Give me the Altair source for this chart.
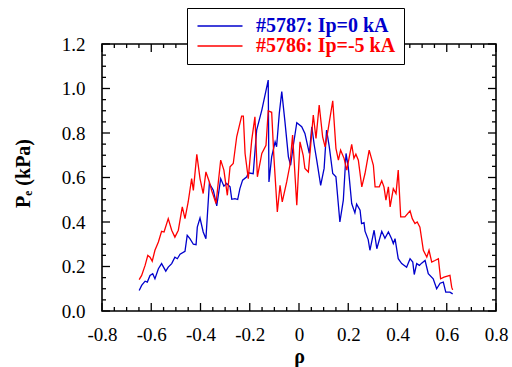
import altair as alt
import pandas as pd

blue_label = "#5787: Ip=0 kA"
red_label = "#5786: Ip=-5 kA"

blue_rho = [-0.649, -0.639, -0.625, -0.616, -0.605, -0.594, -0.585, -0.571, -0.558, -0.541,
            -0.531, -0.517, -0.504, -0.494, -0.483, -0.463, -0.454, -0.443, -0.429, -0.418,
            -0.413, -0.402, -0.389, -0.378, -0.364, -0.348, -0.334, -0.318, -0.305, -0.294,
            -0.280, -0.273, -0.260, -0.249, -0.240, -0.229, -0.212, -0.206, -0.186, -0.172,
            -0.151, -0.125, -0.122, -0.111, -0.097, -0.091, -0.080, -0.070, -0.057, -0.043,
            -0.034, -0.023, -0.009, 0.011, 0.024, 0.042, 0.052, 0.062, 0.072, 0.088,
            0.102, 0.112, 0.123, 0.137, 0.150, 0.166, 0.180, 0.191, 0.200, 0.214,
            0.227, 0.234, 0.248, 0.254, 0.264, 0.268, 0.281, 0.288, 0.305, 0.316,
            0.336, 0.349, 0.363, 0.376, 0.383, 0.390, 0.403, 0.417, 0.437, 0.451,
            0.462, 0.468, 0.478, 0.489, 0.498, 0.512, 0.525, 0.545, 0.559, 0.573,
            0.586, 0.596, 0.613, 0.624]
blue_pe = [0.092, 0.115, 0.134, 0.130, 0.160, 0.168, 0.145, 0.190, 0.213, 0.179,
           0.197, 0.213, 0.242, 0.235, 0.255, 0.268, 0.340, 0.325, 0.300, 0.298,
           0.377, 0.418, 0.355, 0.325, 0.573, 0.543, 0.472, 0.595, 0.561, 0.573,
           0.558, 0.502, 0.505, 0.501, 0.550, 0.588, 0.603, 0.621, 0.617, 0.813,
           0.903, 1.038, 0.580, 0.693, 0.760, 0.738, 0.888, 0.986, 0.850, 0.693,
           0.655, 0.745, 0.846, 0.828, 0.798, 0.708, 0.828, 0.745, 0.678, 0.565,
           0.641, 0.813, 0.738, 0.618, 0.603, 0.400, 0.498, 0.708, 0.648, 0.483,
           0.441, 0.480, 0.453, 0.393, 0.397, 0.359, 0.321, 0.273, 0.363, 0.280,
           0.358, 0.327, 0.355, 0.325, 0.303, 0.325, 0.235, 0.213, 0.197, 0.235,
           0.220, 0.164, 0.213, 0.205, 0.215, 0.227, 0.168, 0.145, 0.100, 0.125,
           0.130, 0.085, 0.085, 0.077]

red_rho = [-0.649, -0.639, -0.625, -0.614, -0.605, -0.596, -0.585, -0.571, -0.558, -0.548,
           -0.531, -0.517, -0.504, -0.490, -0.474, -0.463, -0.450, -0.436, -0.429, -0.415,
           -0.402, -0.389, -0.378, -0.364, -0.355, -0.337, -0.318, -0.305, -0.291, -0.280,
           -0.267, -0.253, -0.233, -0.226, -0.219, -0.206, -0.192, -0.179, -0.169, -0.151,
           -0.134, -0.125, -0.111, -0.102, -0.088, -0.077, -0.068, -0.050, -0.037, -0.026,
           -0.009, 0.004, 0.017, 0.024, 0.038, 0.058, 0.069, 0.082, 0.096, 0.106,
           0.119, 0.137, 0.150, 0.160, 0.169, 0.183, 0.194, 0.214, 0.223, 0.231,
           0.241, 0.255, 0.268, 0.285, 0.302, 0.309, 0.326, 0.336, 0.345, 0.353,
           0.363, 0.370, 0.383, 0.394, 0.403, 0.413, 0.430, 0.451, 0.460, 0.471,
           0.480, 0.491, 0.505, 0.519, 0.528, 0.539, 0.552, 0.566, 0.575, 0.589,
           0.613, 0.620, 0.624]
red_pe = [0.141, 0.160, 0.205, 0.250, 0.242, 0.224, 0.273, 0.310, 0.358, 0.355,
          0.415, 0.363, 0.332, 0.363, 0.468, 0.415, 0.490, 0.595, 0.542, 0.704,
          0.595, 0.528, 0.625, 0.580, 0.542, 0.483, 0.678, 0.633, 0.520, 0.648,
          0.663, 0.783, 0.876, 0.876, 0.708, 0.595, 0.768, 0.873, 0.603, 0.708,
          0.745, 0.899, 0.893, 0.693, 0.445, 0.565, 0.490, 0.580, 0.655, 0.791,
          0.475, 0.760, 0.700, 0.641, 0.625, 0.881, 0.776, 0.926, 0.783, 0.738,
          0.821, 0.945, 0.731, 0.678, 0.723, 0.686, 0.633, 0.749, 0.686, 0.705,
          0.678, 0.558, 0.618, 0.723, 0.655, 0.558, 0.558, 0.585, 0.558, 0.498,
          0.558, 0.468, 0.550, 0.528, 0.633, 0.423, 0.423, 0.450, 0.415, 0.393,
          0.400, 0.377, 0.273, 0.242, 0.273, 0.220, 0.227, 0.235, 0.145, 0.152,
          0.160, 0.107, 0.095]

x_major = [-0.8, -0.6, -0.4, -0.2, 0.0, 0.2, 0.4, 0.6, 0.8]
x_minor = [-0.75, -0.7, -0.65, -0.55, -0.5, -0.45, -0.35, -0.3, -0.25, -0.15, -0.1, -0.05,
           0.05, 0.1, 0.15, 0.25, 0.3, 0.35, 0.45, 0.5, 0.55, 0.65, 0.7, 0.75]
y_major = [0.0, 0.2, 0.4, 0.6, 0.8, 1.0, 1.2]
y_minor = [0.05, 0.1, 0.15, 0.25, 0.3, 0.35, 0.45, 0.5, 0.55, 0.65, 0.7, 0.75,
           0.85, 0.9, 0.95, 1.05, 1.1, 1.15]

W, H = 394, 267
FONT = "Times New Roman, Liberation Serif, DejaVu Serif, serif"
BLUE, RED = "#0000cc", "#ff0000"

df = pd.concat([
    pd.DataFrame({"rho": blue_rho, "pe": blue_pe, "shot": blue_label}),
    pd.DataFrame({"rho": red_rho, "pe": red_pe, "shot": red_label}),
])

xscale = alt.Scale(domain=[-0.8, 0.8], nice=False, zero=False)
yscale = alt.Scale(domain=[0, 1.2], nice=False, zero=False)

xaxis = alt.Axis(
    values=x_major, ticks=False, domain=False, grid=False,
    labelExpr="datum.value == 0 ? '0' : (datum.value < 0 ? '-' : '') + format(abs(datum.value), '.1f')",
    labelFont=FONT, labelFontSize=19, labelColor="black", labelPadding=14,
    labelFlush=False, labelOverlap=False,
    title="ρ", titleFont=FONT, titleFontSize=20, titleFontWeight="bold", titleColor="black",
    titleX=W / 2, titleY=51, titleBaseline="alphabetic", titleAlign="center")
yaxis = alt.Axis(
    values=y_major, format=".1f", ticks=False, domain=False, grid=False,
    labelFont=FONT, labelFontSize=19, labelColor="black", labelPadding=17,
    labelFlush=False, labelOverlap=False,
    title="Pₑ (kPa)", titleFont=FONT, titleFontSize=20, titleFontWeight="bold", titleColor="black",
    titleX=-79, titleY=129, titleAngle=270, titleBaseline="middle", titleAlign="center")

lines = alt.Chart(df).mark_line(strokeWidth=1.3).encode(
    x=alt.X("rho:Q", scale=xscale, axis=xaxis),
    y=alt.Y("pe:Q", scale=yscale, axis=yaxis),
    color=alt.Color("shot:N", scale=alt.Scale(domain=[blue_label, red_label], range=[BLUE, RED]),
                    legend=alt.Legend(
                        title=None, orient="none", legendX=85, legendY=-36,
                        fillColor="white", strokeColor="black", padding=8,
                        labelFont=FONT, labelFontSize=20, labelFontWeight="bold",
                        labelColor=alt.ExprRef(expr=f"datum.value == '{blue_label}' ? '{BLUE}' : '{RED}'"),
                        symbolType="M-1,0H5", symbolSize=225, symbolStrokeWidth=1.5,
                        labelOffset=41, rowPadding=-4, labelLimit=300)),
    detail="shot:N",
)

def xticks(vals, length):
    d = pd.DataFrame({"v": vals})
    bottom = alt.Chart(d).mark_rule(color="black", strokeWidth=1.3).encode(
        x=alt.X("v:Q", scale=xscale, axis=xaxis), y=alt.value(H), y2=alt.value(H - length))
    top = alt.Chart(d).mark_rule(color="black", strokeWidth=1.3).encode(
        x=alt.X("v:Q", scale=xscale, axis=xaxis), y=alt.value(0), y2=alt.value(length))
    return [bottom, top]

def yticks(vals, length):
    d = pd.DataFrame({"v": vals})
    left = alt.Chart(d).mark_rule(color="black", strokeWidth=1.3).encode(
        y=alt.Y("v:Q", scale=yscale, axis=yaxis), x=alt.value(0), x2=alt.value(length))
    right = alt.Chart(d).mark_rule(color="black", strokeWidth=1.3).encode(
        y=alt.Y("v:Q", scale=yscale, axis=yaxis), x=alt.value(W), x2=alt.value(W - length))
    return [left, right]

layers = [lines] + xticks(x_major, 8) + xticks(x_minor, 4) + yticks(y_major, 8) + yticks(y_minor, 4)

chart = alt.layer(*layers).properties(
    width=W, height=H,
    autosize=alt.AutoSizeParams(type="none"),
    padding={"left": 102, "top": 44, "right": 16, "bottom": 56},
    background="white",
).configure_view(stroke="black", strokeWidth=1.6)

chart.save("out.html", embed_options={"renderer": "svg", "actions": False})
